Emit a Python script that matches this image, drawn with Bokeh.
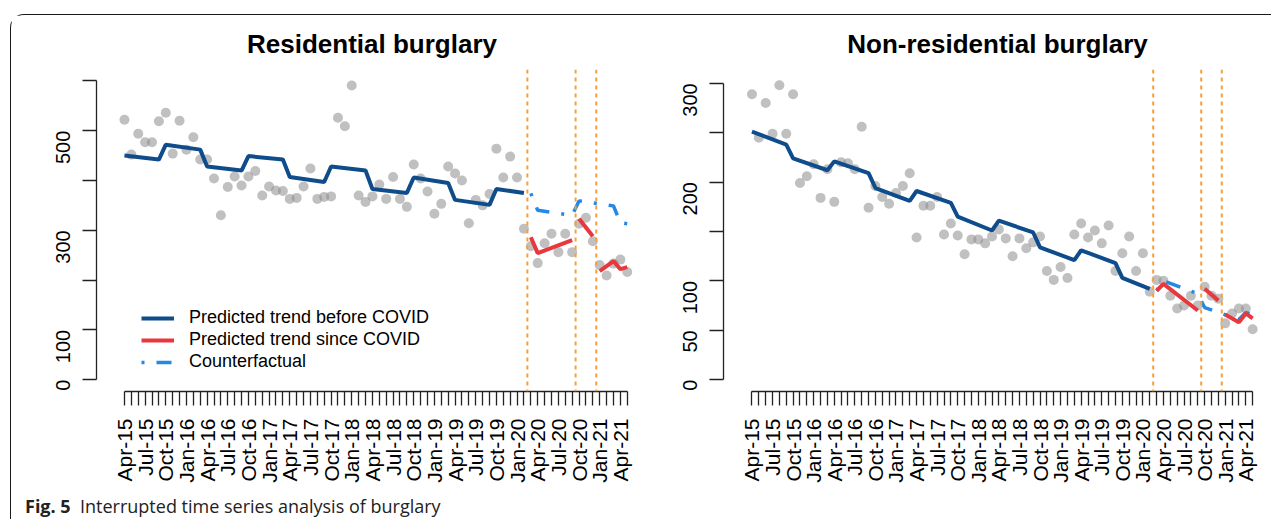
import math
from bokeh.plotting import figure
from bokeh.models import FixedTicker, Span, Legend, LegendItem, Div, Range1d
from bokeh.layouts import row, column
from bokeh.embed import file_html
from bokeh.resources import INLINE

# ---------------- data ----------------
month_idx = list(range(74))  # Apr-15 ... May-21 (monthly)
tick_label_pos = [0, 3, 6, 9, 12, 15, 18, 21, 24, 27, 30, 33, 36, 39, 42, 45, 48, 51, 54, 57, 60, 63, 66, 69, 72]
tick_labels = ["Apr-15", "Jul-15", "Oct-15", "Jan-16", "Apr-16", "Jul-16", "Oct-16", "Jan-17",
               "Apr-17", "Jul-17", "Oct-17", "Jan-18", "Apr-18", "Jul-18", "Oct-18", "Jan-19",
               "Apr-19", "Jul-19", "Oct-19", "Jan-20", "Apr-20", "Jul-20", "Oct-20", "Jan-21", "Apr-21"]
breaks = [58.5, 65.5, 68.5]

# Residential burglary
res_obs = [522, 452, 494, 477, 477, 519, 536, 454, 520, 462, 487, 442, 442, 404, 330, 387, 408, 390,
           408, 419, 370, 388, 380, 379, 363, 365, 388, 424, 363, 367, 368, 526, 509, 591, 370, 357,
           368, 392, 363, 407, 363, 347, 432, 404, 378, 333, 353, 428, 414, 400, 314, 361, 350, 373,
           464, 406, 448, 406, 303, 268, 234, 274, 293, 256, 293, 256, 313, 325, 278, 230, 209, 233,
           241, 216]
res_pre_x = [0, 5, 6, 11, 12, 17, 18, 23, 24, 29, 30, 35, 36, 41, 42, 47, 48, 53, 54, 58]
res_pre_y = [450, 442, 472, 462, 428, 420, 449, 442, 407, 397, 428, 420, 383, 375, 406, 395, 361, 351, 383, 375]
res_cf_x = [59, 60, 65, 66, 71, 72, 73]
res_cf_y = [374, 340, 330, 359, 349, 315, 313]
res_post1_x = [59, 60, 65]
res_post1_y = [286, 254, 280]
res_post2_x = [66, 68]
res_post2_y = [323, 288]
res_post3_x = [69, 71, 72, 73]
res_post3_y = [218, 238, 222, 226]

# Non-residential burglary
non_obs = [289, 245, 280, 249, 298, 249, 289, 199, 206, 218, 184, 213, 180, 220, 219, 213, 256, 174,
           196, 185, 178, 189, 196, 209, 144, 176, 176, 185, 147, 158, 146, 127, 142, 142, 138, 145,
           152, 143, 125, 143, 133, 139, 145, 110, 101, 114, 103, 147, 158, 144, 151, 138, 156, 110,
           128, 145, 110, 128, 89, 101, 100, 85, 72, 75, 85, 75, 94, 85, 82, 57, 67, 72, 72, 51]
non_pre_x = [0, 5, 6, 11, 12, 17, 18, 23, 24, 29, 30, 35, 36, 41, 42, 47, 48, 53, 54, 58]
non_pre_y = [251, 238, 224, 212, 221, 209, 194, 181, 191, 179, 165, 151, 161, 149, 134, 121, 131, 118, 103, 92]
non_cf_x = [59, 60, 65, 66, 71, 72, 73]
non_cf_y = [90, 100, 87, 73, 61, 68, 66]
non_post1_x = [59, 60, 65]
non_post1_y = [90, 97, 70]
non_post2_x = [66, 68]
non_post2_y = [92, 80]
non_post3_x = [69, 71, 72, 73]
non_post3_y = [66, 58, 67, 62]

res_yticks = [0, 100, 200, 300, 400, 500, 600]
res_ylabels = {0: "0", 100: "100", 200: "", 300: "300", 400: "", 500: "500", 600: ""}
non_yticks = [0, 50, 100, 150, 200, 250, 300]
non_ylabels = {0: "0", 50: "50", 100: "100", 150: "", 200: "200", 250: "", 300: "300"}

# ---------------- style ----------------
FONT = "Liberation Sans"
C_PRE = "#0F4C8C"
C_POST = "#E8383D"
C_CF = "#2389E6"
C_BRK = "#F5A03C"
C_PT = "#8C8C8C"


def make_panel(title, width, min_left, xr, yr, yticks, ylabels, ybounds, obs, pre, cf, posts):
    p = figure(width=width, height=470, output_backend="svg", toolbar_location=None,
               x_range=Range1d(*xr), y_range=Range1d(*yr),
               min_border_left=min_left, min_border_right=0, min_border_top=54, min_border_bottom=94)
    p.outline_line_color = None
    p.grid.visible = False
    p.background_fill_color = "white"
    p.border_fill_color = "white"

    p.title.text = title
    p.title.align = "center"
    p.title.text_font = FONT
    p.title.text_font_size = "26px"
    p.title.text_font_style = "bold"
    p.title.text_color = "black"
    p.title.standoff = 22

    xlab = {i: "" for i in month_idx}
    for pos, lab in zip(tick_label_pos, tick_labels):
        xlab[pos] = lab
    p.xaxis.ticker = FixedTicker(ticks=month_idx)
    p.xaxis.major_label_overrides = xlab
    p.xaxis.major_label_orientation = math.pi / 2
    p.xaxis.bounds = (0, 73)
    p.xaxis.major_label_standoff = 13

    p.yaxis.ticker = FixedTicker(ticks=yticks)
    p.yaxis.major_label_overrides = ylabels
    p.yaxis.major_label_orientation = math.pi / 2
    p.yaxis.bounds = ybounds
    p.yaxis.major_label_standoff = 19

    for ax in (p.xaxis, p.yaxis):
        ax.minor_tick_line_color = None
        ax.major_tick_in = 0
        ax.major_tick_out = 14
        ax.axis_line_color = "#222222"
        ax.axis_line_width = 1.3
        ax.major_tick_line_color = "#222222"
        ax.major_tick_line_width = 1.3
        ax.major_label_text_font = FONT
        ax.major_label_text_color = "black"
    p.xaxis.major_label_text_font_size = "21px"
    p.yaxis.major_label_text_font_size = "20px"

    p.scatter(month_idx, obs, size=10, fill_color=C_PT, fill_alpha=0.55, line_color=None)

    r_pre = p.line(pre[0], pre[1], line_color=C_PRE, line_width=4)
    r_cf = p.line(cf[0], cf[1], line_color=C_CF, line_width=3.5, line_dash="3 12 15 12")
    r_posts = [p.line(px_, py_, line_color=C_POST, line_width=4) for px_, py_ in posts]

    for b in breaks:
        p.add_layout(Span(location=b, dimension="height", line_color=C_BRK,
                          line_width=2, line_dash="4 4"))
    return p, r_pre, r_posts[0], r_cf


p1, rb, rr, rc = make_panel("Residential burglary", 636, 85, (-4.06, 75.94), (-24, 623),
                            res_yticks, res_ylabels, (0, 600), res_obs,
                            (res_pre_x, res_pre_y), (res_cf_x, res_cf_y),
                            [(res_post1_x, res_post1_y), (res_post2_x, res_post2_y), (res_post3_x, res_post3_y)])

p2, _, _, _ = make_panel("Non-residential burglary", 624, 76, (-4.15, 75.75), (-12, 314),
                         non_yticks, non_ylabels, (0, 300), non_obs,
                         (non_pre_x, non_pre_y), (non_cf_x, non_cf_y),
                         [(non_post1_x, non_post1_y), (non_post2_x, non_post2_y), (non_post3_x, non_post3_y)])

legend = Legend(items=[LegendItem(label="Predicted trend before COVID", renderers=[rb]),
                       LegendItem(label="Predicted trend since COVID", renderers=[rr]),
                       LegendItem(label="Counterfactual", renderers=[rc])],
                location=(45, 19))
legend.border_line_color = None
legend.background_fill_alpha = 0
legend.padding = 0
legend.margin = 0
legend.spacing = 1
legend.glyph_width = 33
legend.glyph_height = 20
legend.label_height = 20
legend.label_standoff = 15
legend.label_text_font = FONT
legend.label_text_font_size = "18px"
legend.label_text_color = "black"
p1.add_layout(legend)

cap = Div(text='<span style="font-weight:bold">Fig. 5</span>&nbsp;&nbsp;Interrupted time series analysis of burglary',
          width=700, height=26, margin=(8, 0, 0, 14),
          styles={"font-family": "Open Sans", "font-size": "18px", "color": "#222222", "line-height": "26px"})

layout = column(row(p1, p2), cap, margin=(14, 0, 0, 10),
                styles={"border-top": "1.5px solid #1a1a1a", "border-left": "1.5px solid #1a1a1a",
                        "border-top-left-radius": "14px"})

open("out.html", "w").write(file_html(layout, INLINE))
